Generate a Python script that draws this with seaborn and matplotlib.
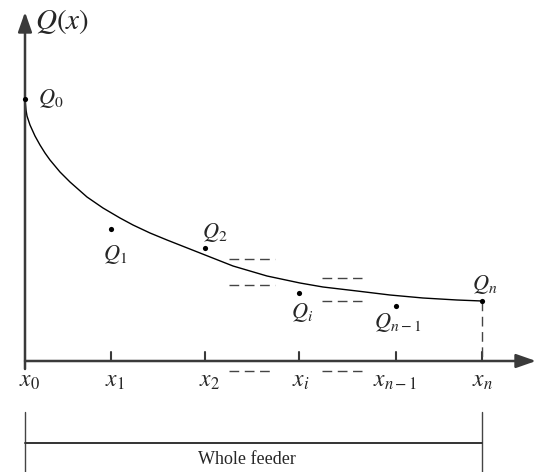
import matplotlib
matplotlib.use("Agg")
import matplotlib.pyplot as plt
import seaborn as sns
import pandas as pd

# Feeder nodes (distance along feeder) and their labels
node_pos = [0, 86, 180, 274, 371, 457]
node_labels = [r"$x_0$", r"$x_1$", r"$x_2$", r"$x_i$", r"$x_{n-1}$", r"$x_n$"]

# Discrete load values at the nodes
q_values = [262, 132, 113, 68, 55, 60]
q_labels = [r"$Q_0$", r"$Q_1$", r"$Q_2$", r"$Q_i$", r"$Q_{n-1}$", r"$Q_n$"]

# Continuous load profile Q(x)
curve_x = [0, 1, 2, 5, 10, 15, 20, 25, 35, 45, 62, 78, 95, 108, 125, 142,
           175, 208, 242, 275, 298, 332, 365, 398, 432, 457]
curve_q = [261, 251, 245, 236, 225, 216, 208, 201, 189, 179, 164, 153, 143,
           136, 128, 121, 108, 95, 85, 78, 74, 70, 66, 63, 61, 60]

sns.set_theme(style="white")
plt.rcParams["font.family"] = ["Liberation Serif", "DejaVu Serif"]
plt.rcParams["mathtext.fontset"] = "stix"

fig = plt.figure(figsize=(5.37, 4.72), dpi=100)
ax = fig.add_axes([0, 0, 1, 1])
ax.set_xlim(-25, 512)
ax.set_ylim(-111, 361)
ax.axis("off")

axis_col = "#3a3a3a"

# Coordinate axes with arrowheads
ax.annotate("", xy=(511, 0), xytext=(0, 0),
            arrowprops=dict(arrowstyle="-|>,head_length=1.0,head_width=0.35",
                            color=axis_col, lw=1.8, shrinkA=0, shrinkB=0))
ax.annotate("", xy=(0, 349), xytext=(0, -8),
            arrowprops=dict(arrowstyle="-|>,head_length=1.0,head_width=0.35",
                            color=axis_col, lw=1.8, shrinkA=0, shrinkB=0))
ax.text(10, 339, r"$Q(x)$", fontsize=21, ha="left", va="center")

# Tick marks and node labels on the feeder axis
for xp in node_pos[1:]:
    ax.plot([xp, xp], [0, 9], color=axis_col, lw=1.5)
label_shift = [5, 4, 4, 2, -1, 0]
for xp, lab, dx in zip(node_pos, node_labels, label_shift):
    ax.text(xp + dx, -20, lab, fontsize=17, ha="center", va="center")

# Continuous profile
curve = pd.DataFrame({"x": curve_x, "Q": curve_q})
sns.lineplot(data=curve, x="x", y="Q", ax=ax, color="black", lw=1.0,
             sort=False, estimator=None)

# Discrete node values
pts = pd.DataFrame({"x": node_pos, "Q": q_values})
sns.scatterplot(data=pts, x="x", y="Q", ax=ax, color="black", s=14,
                edgecolor="black", linewidth=0, zorder=5)

# Node value labels (offset in points from each dot)
q_offsets = [(9, 0), (3, -18), (7, 11), (2, -14), (1, -12), (2, 12)]
q_ha = ["left", "center", "center", "center", "center", "center"]
for xp, qv, lab, (dx, dy), ha in zip(node_pos, q_values, q_labels, q_offsets, q_ha):
    ax.annotate(lab, xy=(xp, qv), xytext=(dx, dy), textcoords="offset points",
                fontsize=16, ha=ha, va="center")

# Ellipsis dashes marking omitted nodes
dash = dict(color="#444444", lw=1.0, linestyle=(0, (7, 4)))
ax.plot([204, 250], [102, 102], **dash)
ax.plot([204, 250], [76, 76], **dash)
ax.plot([297, 337], [83, 83], **dash)
ax.plot([297, 337], [60, 60], **dash)
ax.plot([204, 246], [-10, -10], **dash)
ax.plot([297, 337], [-10, -10], **dash)

# Drop line from last node to the axis
ax.plot([node_pos[-1], node_pos[-1]], [q_values[-1], 0], color="#444444",
        lw=1.0, linestyle=(0, (7, 4)))

# Whole-feeder span bracket
ax.plot([node_pos[0], node_pos[0]], [-51, -111], color="#444444", lw=1.0)
ax.plot([node_pos[-1], node_pos[-1]], [-51, -111], color="#444444", lw=1.0)
ax.plot([node_pos[0], node_pos[-1]], [-82, -82], color="#333333", lw=1.4)
ax.text(222, -99, "Whole feeder", fontsize=13, ha="center", va="center")

fig.savefig("out.png", dpi=100)
